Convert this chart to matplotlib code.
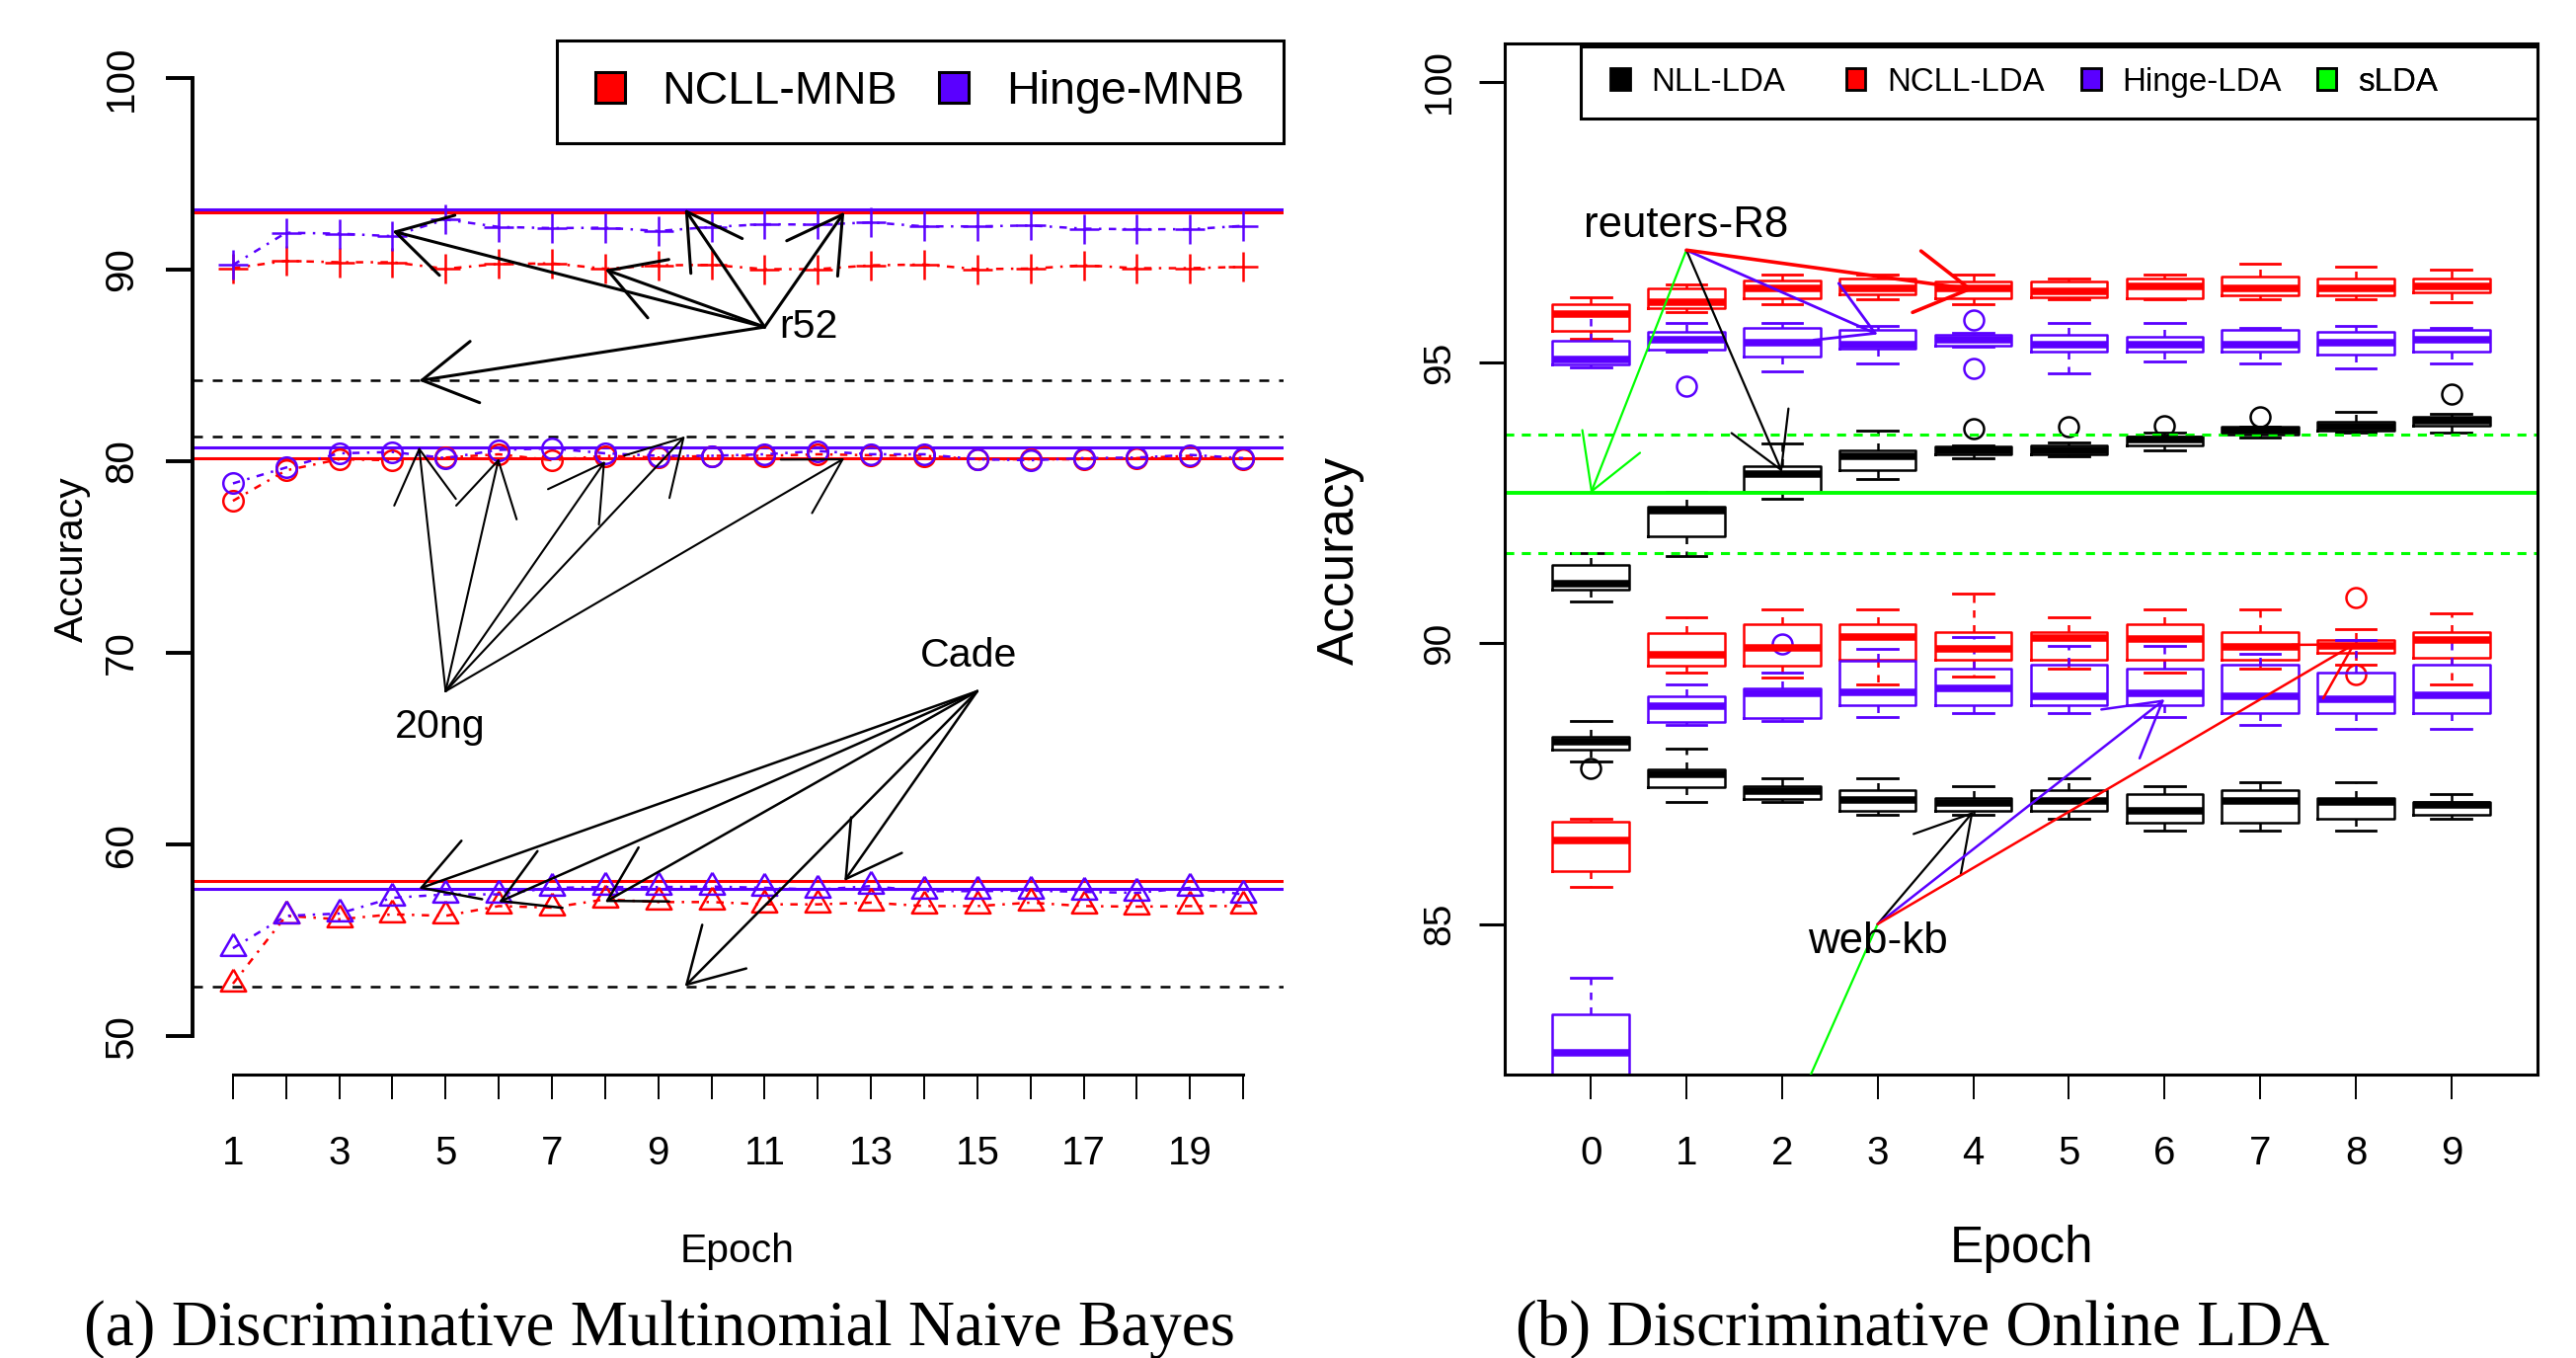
import matplotlib
matplotlib.use("Agg")
import matplotlib.pyplot as plt
from matplotlib.patches import ArrowStyle, Patch, Rectangle

plt.rcParams['font.family'] = ['Liberation Sans', 'DejaVu Sans']

RED = '#ff0000'
BLUE = '#5a00ff'
GREEN = '#00ff00'

# ---------------- (a) discriminative MNB ----------------
epochs = list(range(1, 21))

r52_ncll = [90.07, 90.45, 90.38, 90.38, 90.04, 90.29, 90.32, 90.04, 90.22, 90.24,
            90.02, 90.02, 90.22, 90.26, 90.02, 90.05, 90.22, 90.07, 90.07, 90.14]
r52_hinge = [90.24, 91.92, 91.87, 91.74, 92.61, 92.22, 92.16, 92.18, 92.01, 92.22,
             92.36, 92.34, 92.46, 92.25, 92.25, 92.30, 92.13, 92.10, 92.10, 92.28]
ng20_ncll = [77.93, 79.52, 80.10, 80.05, 80.19, 80.36, 80.05, 80.28, 80.19, 80.28,
             80.28, 80.36, 80.31, 80.28, 80.10, 80.10, 80.10, 80.16, 80.28, 80.10]
ng20_hinge = [78.84, 79.67, 80.41, 80.48, 80.16, 80.59, 80.67, 80.41, 80.28, 80.28,
              80.36, 80.53, 80.36, 80.36, 80.10, 80.05, 80.16, 80.19, 80.33, 80.16]
cade_ncll = [52.74, 56.28, 56.10, 56.36, 56.28, 56.79, 56.71, 57.14, 57.00, 57.00,
             56.88, 56.88, 56.97, 56.79, 56.79, 56.97, 56.79, 56.76, 56.79, 56.79]
cade_hinge = [54.59, 56.28, 56.40, 57.22, 57.40, 57.40, 57.74, 57.78, 57.78, 57.81,
              57.74, 57.65, 57.83, 57.57, 57.57, 57.60, 57.53, 57.48, 57.74, 57.40]

# reference levels: (ncll, hinge) solid lines, black dashed baseline
r52_ref = (93.0, 93.15)
r52_base = 84.2
ng20_ref = (80.15, 80.74)
ng20_base = 81.3
cade_ref = (58.1, 57.7)
cade_base = 52.6

# annotation arrows: label origin and the points they point at
r52_origin = (11, 87)
r52_targets = [(4, 92.0), (8, 90.0), (9.5, 93.15), (12.5, 93.0), (4.5, 84.2)]
ng20_origin = (5, 68)
ng20_targets = [(4.5, 80.74), (6, 80.15), (8, 80.0), (9.5, 81.3), (12.5, 80.15)]
cade_origin = (15, 68)
cade_targets = [(4.5, 57.7), (6, 57.0), (8, 57.0), (9.5, 52.6), (12.5, 58.1)]

# ---------------- (b) discriminative online LDA ----------------
lda_epochs = list(range(10))
# five-number summaries per epoch: [whisker low, q1, median, q3, whisker high]
r8_nll = [[90.75, 90.96, 91.06, 91.39, 91.60], [91.56, 91.91, 92.36, 92.44, 92.70],
          [92.57, 92.70, 93.01, 93.16, 93.56], [92.93, 93.09, 93.33, 93.43, 93.79],
          [93.29, 93.37, 93.44, 93.51, 93.53], [93.33, 93.36, 93.44, 93.53, 93.57],
          [93.43, 93.53, 93.62, 93.68, 93.75], [93.66, 93.71, 93.79, 93.85, 93.85],
          [93.75, 93.78, 93.85, 93.94, 94.12], [93.75, 93.87, 93.97, 94.04, 94.08]]
r8_nll_out = {4: [93.82], 5: [93.85], 6: [93.88], 7: [94.03], 9: [94.44]}
r8_ncll = [[95.43, 95.56, 95.87, 96.03, 96.16], [95.89, 95.96, 96.08, 96.31, 96.39],
           [96.03, 96.15, 96.31, 96.46, 96.57], [96.12, 96.22, 96.31, 96.49, 96.57],
           [96.03, 96.15, 96.31, 96.45, 96.57], [96.12, 96.16, 96.27, 96.44, 96.49],
           [96.12, 96.15, 96.35, 96.49, 96.57], [96.12, 96.20, 96.31, 96.53, 96.76],
           [96.12, 96.20, 96.32, 96.49, 96.71], [96.08, 96.24, 96.36, 96.49, 96.66]]
r8_ncll_out = {}
r8_hinge = [[94.92, 94.96, 95.05, 95.39, 95.84], [95.20, 95.23, 95.40, 95.54, 95.71],
            [94.84, 95.11, 95.35, 95.62, 95.71], [94.98, 95.24, 95.32, 95.58, 95.65],
            [95.28, 95.29, 95.40, 95.49, 95.52], [94.80, 95.19, 95.32, 95.49, 95.71],
            [95.02, 95.19, 95.32, 95.45, 95.71], [94.98, 95.19, 95.32, 95.58, 95.62],
            [94.89, 95.14, 95.35, 95.54, 95.65], [94.98, 95.20, 95.40, 95.58, 95.62]]
r8_hinge_out = {1: [94.57], 4: [95.75, 94.89]}

wkb_nll = [[87.90, 88.11, 88.25, 88.34, 88.61], [87.17, 87.44, 87.67, 87.75, 88.12],
           [87.17, 87.22, 87.36, 87.46, 87.59], [86.95, 87.02, 87.21, 87.39, 87.59],
           [86.95, 87.02, 87.15, 87.25, 87.46], [86.88, 87.02, 87.20, 87.39, 87.59],
           [86.67, 86.80, 87.02, 87.32, 87.46], [86.67, 86.80, 87.20, 87.39, 87.52],
           [86.67, 86.87, 87.17, 87.25, 87.52], [86.88, 86.94, 87.12, 87.18, 87.32]]
wkb_nll_out = {0: [87.77]}
wkb_ncll = [[85.67, 85.95, 86.49, 86.82, 86.88], [89.47, 89.60, 89.80, 90.18, 90.46],
            [89.39, 89.60, 89.91, 90.34, 90.61], [89.26, 89.70, 90.11, 90.34, 90.61],
            [89.40, 89.70, 89.90, 90.19, 90.89], [89.54, 89.70, 90.09, 90.19, 90.46],
            [89.47, 89.70, 90.08, 90.34, 90.61], [89.54, 89.70, 89.94, 90.19, 90.61],
            [89.61, 89.83, 89.95, 90.06, 90.25], [89.26, 89.75, 90.06, 90.19, 90.54]]
wkb_ncll_out = {8: [90.82, 89.45]}
wkb_hinge = [[81.60, 82.10, 82.71, 83.39, 84.04], [88.54, 88.60, 88.88, 89.05, 89.26],
             [88.61, 88.67, 89.10, 89.20, 89.48], [88.69, 88.89, 89.13, 89.68, 89.90],
             [88.76, 88.89, 89.20, 89.55, 90.11], [88.76, 88.89, 89.05, 89.61, 89.96],
             [88.69, 88.89, 89.11, 89.55, 89.96], [88.54, 88.75, 89.05, 89.61, 89.82],
             [88.47, 88.75, 89.01, 89.48, 90.05], [88.47, 88.75, 89.08, 89.61, 90.05]]
wkb_hinge_out = {2: [89.98]}

slda_r8 = (91.61, 92.67, 93.71)  # mean -/+ sd

r8_origin = (1, 97.0)
r8_arrows = [((0, 92.67), GREEN, 0.8), ((2, 93.05), 'black', 0.8),
             ((3, 95.5), BLUE, 1.0), ((4, 96.3), RED, 1.3)]
wkb_origin = (3, 85.0)
wkb_arrows = [((0, 73.5), GREEN, 0.8), ((4, 87.0), 'black', 0.8),
              ((6, 89.0), BLUE, 0.9), ((8, 90.0), RED, 0.9)]

lda_names = ['NLL-LDA', 'NCLL-LDA', 'Hinge-LDA', 'sLDA']
lda_colors = ['black', RED, BLUE, GREEN]

# ---------------------------------------------------------------
W, H = 2609, 1375
fig = plt.figure(figsize=(W / 200, H / 200), dpi=200)


def px_axes(x0, y0, x1, y1):
    return fig.add_axes([x0 / W, 1 - y1 / H, (x1 - x0) / W, (y1 - y0) / H])


head = ArrowStyle('->', head_length=19.5, head_width=11.3)


def arrow(ax, origin, target, color='black', lw=1.0):
    ann = ax.annotate('', xy=target, xytext=origin, annotation_clip=False,
                      arrowprops=dict(arrowstyle=head, color=color, lw=lw,
                                      shrinkA=0, shrinkB=0, mutation_scale=1,
                                      joinstyle='round', capstyle='round'))
    ann.arrow_patch.set_clip_box(ax.bbox)


def legend_frame(ax, frame):
    x0, y0, x1, y1 = frame
    ax.add_patch(Rectangle((x0, y0), x1 - x0, y1 - y0, transform=ax.transAxes,
                           fill=False, ec='black', lw=1.1, clip_on=False, zorder=6))


ax1 = px_axes(195, 40, 1300, 1088)
ax2 = px_axes(1524, 44, 2570, 1088)

# ----- left panel -----
tri = [(0, 1.555), (-1.347, -0.778), (1.347, -0.778), (0, 1.555)]
dotdash = (0, (3, 3, 1, 3))
for refs, base in [(r52_ref, r52_base), (ng20_ref, ng20_base), (cade_ref, cade_base)]:
    ax1.axhline(base, color='black', lw=0.9, ls=(0, (4, 4)))
    ax1.axhline(refs[0], color=RED, lw=1.1)
    ax1.axhline(refs[1], color=BLUE, lw=1.1)

series = [(r52_ncll, RED, '+', 10.8), (r52_hinge, BLUE, '+', 10.8),
          (ng20_ncll, RED, 'o', 7.4), (ng20_hinge, BLUE, 'o', 7.4),
          (cade_ncll, RED, tri, 10.6), (cade_hinge, BLUE, tri, 10.6)]
for vals, col, mk, ms in series:
    ax1.plot(epochs, vals, color=col, lw=0.9, ls=dotdash, marker=mk, ms=ms,
             mew=0.9, mfc='none', mec=col)

for t in r52_targets:
    arrow(ax1, r52_origin, t, lw=1.1)
for t in ng20_targets:
    arrow(ax1, ng20_origin, t, lw=0.75)
for t in cade_targets:
    arrow(ax1, cade_origin, t, lw=0.9)
ax1.annotate('r52', xy=r52_origin, xytext=(5.5, 0), textcoords='offset points',
             ha='left', va='center', fontsize=14.8)
ax1.annotate('20ng', xy=ng20_origin, xytext=(-2, -13), textcoords='offset points',
             ha='center', va='center', fontsize=14.8)
ax1.annotate('Cade', xy=cade_origin, xytext=(-3, 13), textcoords='offset points',
             ha='center', va='center', fontsize=14.8)

ax1.set_xlim(0.24, 20.76)
ax1.set_ylim(48, 102)
for s in ['top', 'right']:
    ax1.spines[s].set_visible(False)
ax1.spines['left'].set_bounds(50, 100)
ax1.spines['left'].set_linewidth(1.4)
ax1.spines['bottom'].set_bounds(1, 20)
ax1.spines['bottom'].set_linewidth(1.1)
ax1.set_yticks([50, 60, 70, 80, 90, 100])
ax1.set_xticks(epochs)
ax1.set_xticklabels([str(e) if e % 2 else '' for e in epochs])
ax1.tick_params(axis='y', length=9.7, width=1.4, pad=9.4, labelsize=14.5,
                labelrotation=90)
ax1.tick_params(axis='x', length=9, width=0.7, pad=13, labelsize=14.5)
for lab in ax1.get_yticklabels():
    lab.set_va('center')

ax1.legend(handles=[Patch(fc=RED, ec='black', lw=1.1, label='NCLL-MNB'),
                    Patch(fc=BLUE, ec='black', lw=1.1, label='Hinge-MNB')],
           loc='center left', bbox_to_anchor=(0.369, 0.9494), frameon=False,
           borderpad=0, borderaxespad=0, ncol=2, handlelength=0.65,
           handleheight=0.65, handletextpad=0.8, columnspacing=0.9, fontsize=16.8)
legend_frame(ax1, (0.334, 0.8998, 1.0, 0.999))

# ----- right panel -----


def box_stats(rows, outl):
    return [dict(whislo=r[0], q1=r[1], med=r[2], q3=r[3], whishi=r[4],
                 fliers=outl.get(i, [])) for i, r in enumerate(rows)]


groups = [(r8_nll, r8_nll_out, 'black'), (wkb_nll, wkb_nll_out, 'black'),
          (r8_ncll, r8_ncll_out, RED), (wkb_ncll, wkb_ncll_out, RED),
          (r8_hinge, r8_hinge_out, BLUE), (wkb_hinge, wkb_hinge_out, BLUE)]
for rows, outl, col in groups:
    ax2.bxp(box_stats(rows, outl), positions=lda_epochs, widths=0.8, capwidths=0.42,
            boxprops=dict(color=col, lw=0.9),
            whiskerprops=dict(color=col, lw=0.9, ls=(0, (3, 3))),
            capprops=dict(color=col, lw=1.0),
            medianprops=dict(color=col, lw=2.7, solid_capstyle='butt'),
            flierprops=dict(marker='o', mfc='none', mec=col, ms=7.2, mew=0.9))

ax2.axhline(slda_r8[1], color=GREEN, lw=1.4)
ax2.axhline(slda_r8[0], color=GREEN, lw=1.1, ls=(0, (3, 2.5)))
ax2.axhline(slda_r8[2], color=GREEN, lw=1.1, ls=(0, (3, 2.5)))

for t, col, lw in r8_arrows:
    arrow(ax2, r8_origin, t, color=col, lw=lw)
for t, col, lw in wkb_arrows:
    arrow(ax2, wkb_origin, t, color=col, lw=lw)
ax2.annotate('reuters-R8', xy=r8_origin, xytext=(0, 9), textcoords='offset points',
             ha='center', va='center', fontsize=15.8)
ax2.annotate('web-kb', xy=wkb_origin, xytext=(0, -6.5), textcoords='offset points',
             ha='center', va='center', fontsize=15.8)

ax2.set_xlim(-0.9, 9.9)
ax2.set_ylim(82.32, 100.68)
ax2.set_xticks(lda_epochs)
ax2.set_xticklabels([str(e) for e in lda_epochs])
ax2.set_yticks([85, 90, 95, 100])
for s in ax2.spines.values():
    s.set_linewidth(1.1)
ax2.tick_params(axis='y', length=9.4, width=1.1, pad=7.9, labelsize=14,
                labelrotation=90)
ax2.tick_params(axis='x', length=9, width=0.7, pad=13, labelsize=14.5)
for lab in ax2.get_yticklabels():
    lab.set_va('center')

# R lays legend entries out in equal-width columns
col_step = 238.5 / 1046
for k, (name, col) in enumerate(zip(lda_names, lda_colors)):
    leg = ax2.legend(handles=[Patch(fc=col, ec='black', lw=1.0, label=name)],
                     loc='center left', bbox_to_anchor=(0.1023 + k * col_step, 0.9626),
                     frameon=False, borderpad=0, borderaxespad=0, handlelength=0.6,
                     handleheight=0.65, handletextpad=0.65, fontsize=11.9)
    ax2.add_artist(leg)
legend_frame(ax2, (0.0736, 0.9272, 1.0, 0.997))

# ----- axis titles and captions -----
fig.text(84 / W, 1 - 566 / H, 'Accuracy', rotation=90, rotation_mode='anchor',
         ha='center', va='baseline', fontsize=14.7)
fig.text(747 / W, 1 - 1278 / H, 'Epoch', ha='center', va='baseline', fontsize=14.7)
fig.text(1371 / W, 1 - 567 / H, 'Accuracy', rotation=90, rotation_mode='anchor',
         ha='center', va='baseline', fontsize=18.5)
fig.text(2048 / W, 1 - 1278 / H, 'Epoch', ha='center', va='baseline', fontsize=18.5)
fig.text(668 / W, 1 - 1362 / H, '(a) Discriminative Multinomial Naive Bayes',
         ha='center', va='baseline', family='Liberation Serif', fontsize=23.5)
fig.text(1947 / W, 1 - 1362 / H, '(b) Discriminative Online LDA',
         ha='center', va='baseline', family='Liberation Serif', fontsize=23.5)

fig.savefig('out.png', dpi=200)
